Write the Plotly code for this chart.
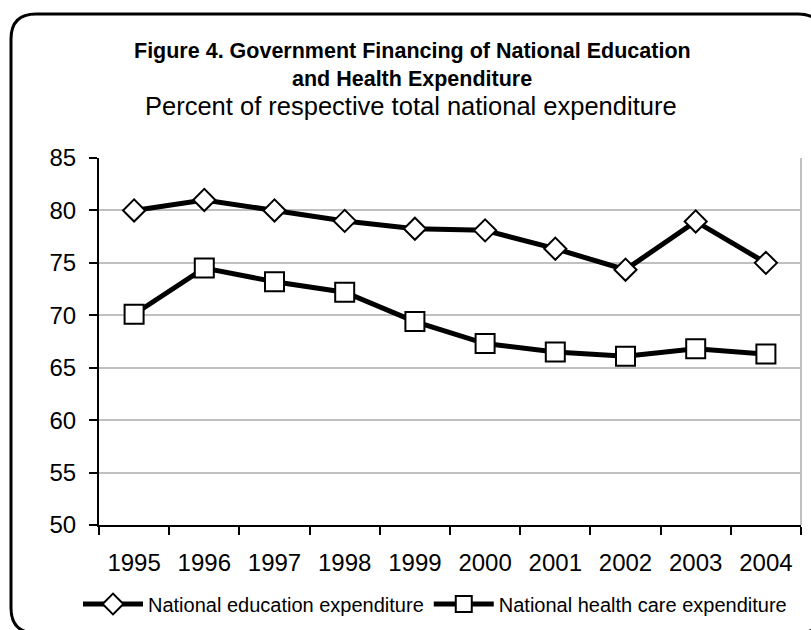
import plotly.graph_objects as go

years = ["1995", "1996", "1997", "1998", "1999", "2000", "2001", "2002", "2003", "2004"]
education = [80.0, 81.0, 80.0, 79.0, 78.25, 78.1, 76.35, 74.35, 78.95, 75.0]
health = [70.1, 74.5, 73.2, 72.2, 69.4, 67.3, 66.5, 66.1, 66.8, 66.3]
y_ticks = [50, 55, 60, 65, 70, 75, 80, 85]

FONT = "Liberation Sans, Arial, sans-serif"
W, H = 811, 630
L, R, T, B = 99, 10, 158, 105
PW, PH = W - L - R, H - T - B


def px(x):
    return (x - L) / PW


def py(y):
    return (H - B - y) / PH


fig = go.Figure()
fig.add_trace(go.Scatter(
    x=years, y=education, name="National education expenditure",
    mode="lines+markers",
    line=dict(color="black", width=5),
    marker=dict(symbol="diamond", size=17, color="white",
                line=dict(color="black", width=2)),
))
fig.add_trace(go.Scatter(
    x=years, y=health, name="National health care expenditure",
    mode="lines+markers",
    line=dict(color="black", width=5),
    marker=dict(symbol="square", size=19, color="white",
                line=dict(color="black", width=2)),
))

# rounded outer frame
x0, y0, x1, y1, r = 11, 14, 823, 633, 25
path = (
    f"M {px(x0)},{py(y0 + r)} "
    f"Q {px(x0)},{py(y0)} {px(x0 + r)},{py(y0)} "
    f"L {px(x1 - r)},{py(y0)} "
    f"Q {px(x1)},{py(y0)} {px(x1)},{py(y0 + r)} "
    f"L {px(x1)},{py(y1 - r)} "
    f"Q {px(x1)},{py(y1)} {px(x1 - r)},{py(y1)} "
    f"L {px(x0 + r)},{py(y1)} "
    f"Q {px(x0)},{py(y1)} {px(x0)},{py(y1 - r)} Z"
)
shapes = [
    dict(type="path", xref="paper", yref="paper", path=path,
         line=dict(color="black", width=3), layer="below"),
    # right edge of the plotting area
    dict(type="line", xref="paper", yref="paper", x0=1, x1=1, y0=0, y1=1,
         line=dict(color="#c0c0c0", width=2), layer="below"),
]

annotations = [
    dict(text="<b>Figure 4. Government Financing of National Education</b>",
         x=px(412), y=py(51), xref="paper", yref="paper", showarrow=False,
         font=dict(family=FONT, size=21.5, color="black"),
         xanchor="center", yanchor="middle"),
    dict(text="<b>and Health Expenditure</b>",
         x=px(412), y=py(79), xref="paper", yref="paper", showarrow=False,
         font=dict(family=FONT, size=21.5, color="black"),
         xanchor="center", yanchor="middle"),
    dict(text="Percent of respective total national expenditure",
         x=px(411), y=py(106), xref="paper", yref="paper", showarrow=False,
         font=dict(family=FONT, size=25.5, color="black"),
         xanchor="center", yanchor="middle"),
]

fig.update_layout(
    width=W, height=H,
    margin=dict(l=L, r=R, t=T, b=B, pad=0, autoexpand=False),
    paper_bgcolor="white", plot_bgcolor="white",
    font=dict(family=FONT, color="black"),
    shapes=shapes,
    annotations=annotations,
    showlegend=True,
    legend=dict(
        orientation="h", x=px(78), y=py(604),
        xanchor="left", yanchor="middle",
        font=dict(family=FONT, size=20, color="black"),
        itemwidth=60, bgcolor="rgba(0,0,0,0)",
        tracegroupgap=0, itemclick=False,
    ),
    xaxis=dict(
        type="category", range=[-0.5, 9.5],
        showline=True, linecolor="black", linewidth=2,
        ticks="outside", ticklen=8, tickwidth=2, tickcolor="black",
        tickson="boundaries", showgrid=False,
        tickfont=dict(family=FONT, size=24, color="black"),
        ticklabelstandoff=15,
        zeroline=False, fixedrange=True,
    ),
    yaxis=dict(
        range=[50, 85], tickvals=y_ticks,
        showline=True, linecolor="black", linewidth=2,
        ticks="outside", ticklen=8, tickwidth=2, tickcolor="black",
        showgrid=True, gridcolor="#c0c0c0", gridwidth=2,
        tickfont=dict(family=FONT, size=24, color="black"),
        ticklabelstandoff=8,
        zeroline=False, fixedrange=True,
    ),
)

fig.write_html("out.html", config={"displayModeBar": False})
